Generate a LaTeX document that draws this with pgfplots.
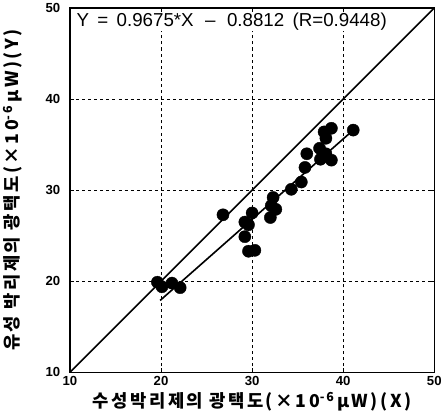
\documentclass[border=0pt]{standalone}
\usepackage{fontspec}
\setmainfont{Liberation Sans}
\newfontfamily\kr[LetterSpace=14]{Noto Sans CJK KR}
\usepackage{pgfplots}
\pgfplotsset{compat=1.18}
\begin{document}
\begin{tikzpicture}
\begin{axis}[
  width=360pt, height=360pt, scale only axis,
  xmin=10, xmax=50, ymin=10, ymax=50,
  xtick={10,20,30,40,50}, ytick={10,20,30,40,50},
  grid=major,
  major grid style={dashed, black, line width=0.7pt},
  axis line style={line width=1.5pt},
  tick style={black, line width=0.8pt},
  tick align=inside,
  /pgf/number format/assume math mode=true,
  ticklabel style={font=\fontsize{13}{15}\selectfont\bfseries},
  yticklabel style={xshift=-6pt},
  xticklabel style={yshift=0pt},
  xlabel={\kr\fontsize{17.5}{19}\selectfont\bfseries 수성박리제의 광택도(×10\textsuperscript{-6}\,μW)(X)},
  ylabel={\kr\fontsize{17.5}{19}\selectfont\bfseries 유성 박리제의 광택도(×10\textsuperscript{-6}\,μW)(Y)},
  xlabel style={yshift=0pt},
  ylabel style={yshift=16pt},
  clip=true,
]
\addplot[black, line width=1.6pt] coordinates {(10,10) (50,50)};
\addplot[black, line width=1.6pt] coordinates {(19.9,17.9) (41.1,36.6)};
\addplot[only marks, mark=*, mark size=6pt, black] coordinates {
(19.6,19.9) (20.1,19.4) (21.2,19.8) (22.1,19.3)
(26.8,27.3) (30.0,27.5) (29.2,26.5) (29.6,26.2) (29.2,24.9)
(29.6,23.3) (30.3,23.4)
(32.3,29.2) (32.1,28.3) (32.6,27.9) (32.0,27.0)
(34.3,30.1) (35.4,30.9) (35.8,32.5) (36.0,34.0)
(37.4,34.6) (37.5,33.4) (38.1,34.0) (38.7,33.3)
(37.9,36.4) (38.7,36.8) (38.1,35.7) (41.1,36.6)
};
\node[anchor=north west, fill=white, inner sep=1pt, font=\fontsize{18.5}{20}\selectfont] at (axis cs:10.6,49.6) {Y \,=\, 0.9675*X \,\,--\,\, 0.8812 \,(R=0.9448)};
\end{axis}
\end{tikzpicture}
\end{document}
